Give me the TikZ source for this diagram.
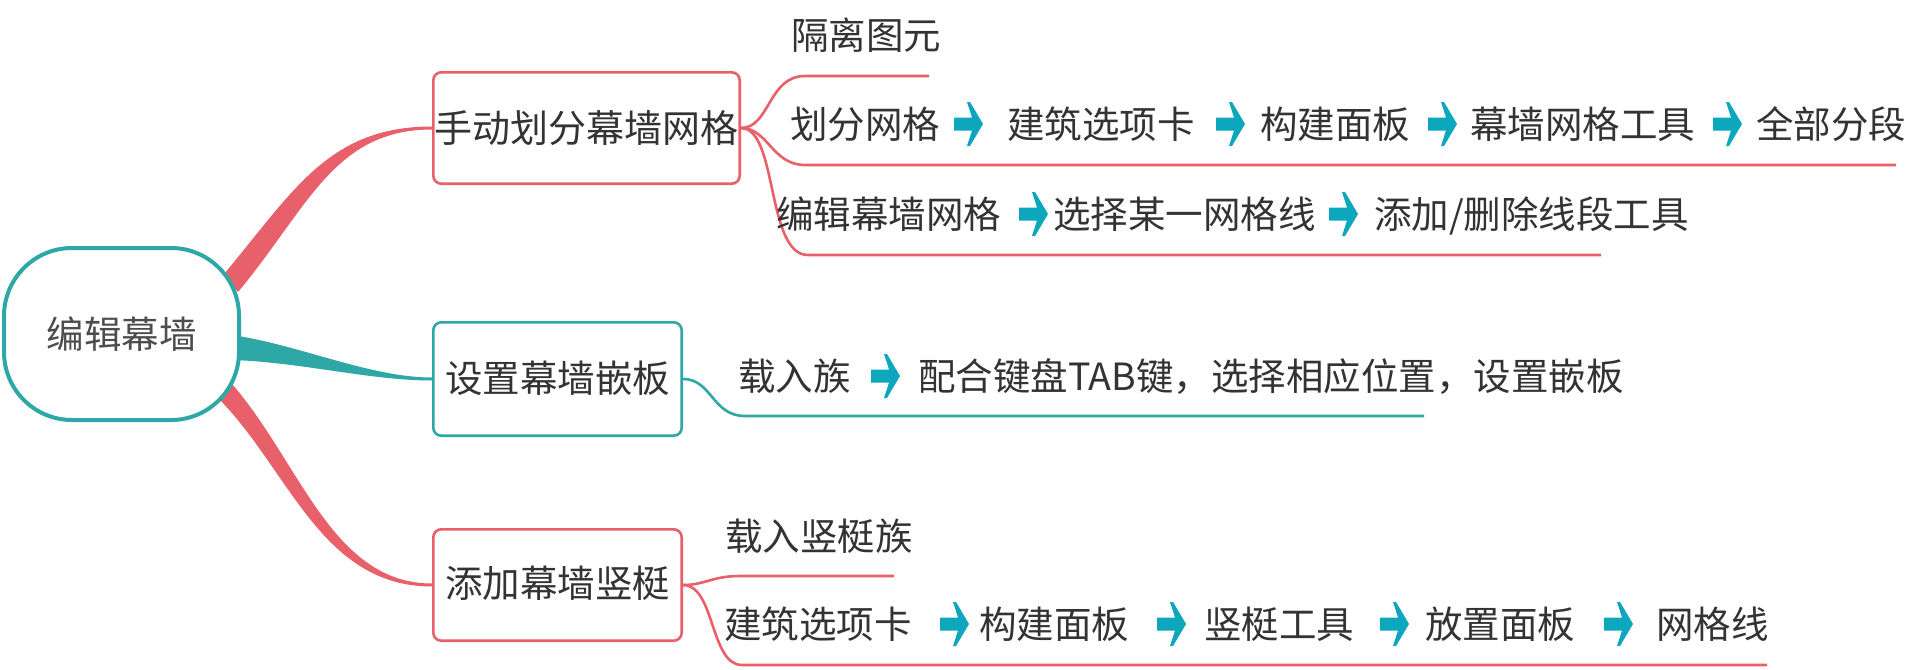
\documentclass[tikz,border=0pt]{standalone}
\usepackage{fontspec}
\usetikzlibrary{calc}
\newfontfamily\cjk{Noto Sans CJK SC}
\definecolor{redline}{HTML}{E8606A}
\definecolor{tealline}{HTML}{2EA7A7}
\definecolor{arrowblue}{HTML}{0CA6BD}
\definecolor{txt}{HTML}{333333}
\definecolor{roottxt}{HTML}{4D4D4D}
\pgfdeclarelayer{bottom}
\pgfdeclarelayer{bands}
\pgfsetlayers{bottom,bands,main}
\tikzset{
  txtstyle/.style={font=\cjk\fontsize{37.5}{40}\selectfont, text=txt, inner sep=0pt, anchor=base west},
  mainbox/.style={draw, line width=2.6pt, rounded corners=8pt, fill=white, inner sep=0pt,
    font=\cjk\fontsize{37.5}{40}\selectfont, text=txt},
  branch/.style={line width=2.6pt},
  flowarrow/.pic={\fill[arrowblue] (0,-6.5) -- (18,-6.5) -- (13,-22) -- (16,-22) -- (29,0)
     -- (16,22) -- (13,22) -- (18,6.5) -- (0,6.5) -- cycle;}
}
\begin{document}
\begin{tikzpicture}[x=1pt,y=-1pt]
\useasboundingbox (0,0) rectangle (1929,669);
\begin{pgfonlayer}{bottom}
\fill[white] (0,0) rectangle (1929,669);
\end{pgfonlayer}

% root
\node[draw=tealline, line width=4pt, rounded corners=68pt, fill=white, inner sep=0pt,
  minimum width=235pt, minimum height=172pt, font=\cjk\fontsize{37.5}{40}\selectfont, text=roottxt]
  (root) at (121.5,334) {\raisebox{3pt}{编辑幕墙}};

% main nodes
\node[mainbox, draw=redline, minimum width=306.4pt, minimum height=111.4pt,
  font=\cjk\fontsize{38}{42}\selectfont] (n1) at (586.5,128)
  {\raisebox{3pt}{\makebox[0pt]{手动划分幕墙网格}}};
\node[mainbox, draw=tealline, minimum width=248.4pt, minimum height=113.4pt] (n2) at (557.5,379)
  {\raisebox{4pt}{\makebox[0pt]{设置幕墙嵌板}}};
\node[mainbox, draw=redline, minimum width=248.4pt, minimum height=111.4pt] (n3) at (557.5,585)
  {\raisebox{6pt}{\makebox[0pt]{添加幕墙竖梃}}};

% thick tapered bands from root
\coordinate (r1a) at (224,274);
\coordinate (r1b) at (238,292);
\coordinate (r2a) at (232,335);
\coordinate (r2b) at (232,360);
\coordinate (r3a) at (232,384);
\coordinate (r3b) at (220,400);
\begin{pgfonlayer}{bands}
\fill[redline] (r1a) .. controls (293,192) and (328,126.5) .. ([yshift=1.5pt]n1.west)
  -- ([yshift=-1.5pt]n1.west) .. controls (334,129.5) and (308,208) .. (r1b) -- cycle;
\fill[tealline] (r2a) .. controls (300,345) and (370,377.5) .. ([yshift=1.5pt]n2.west)
  -- ([yshift=-1.5pt]n2.west) .. controls (370,380.5) and (300,362) .. (r2b) -- cycle;
\fill[redline] (r3a) .. controls (300,462) and (332,583.5) .. ([yshift=1.5pt]n3.west)
  -- ([yshift=-1.5pt]n3.west) .. controls (322,586.5) and (290,472) .. (r3b) -- cycle;
\end{pgfonlayer}

% underline end points
\coordinate (u1) at (929,76);
\coordinate (u2) at (1896,165);
\coordinate (u3) at (1601,255);
\coordinate (u4) at (1424,416);
\coordinate (u5) at (894,576);
\coordinate (u6) at (1767,665);

% child connectors
\draw[branch, redline] (n1.east) .. controls (770,128) and (768,76) .. (805,76) -- (u1);
\draw[branch, redline] (n1.east) .. controls (768,128) and (772,165) .. (805,165) -- (u2);
\draw[branch, redline] (n1.east) .. controls (778,128) and (766,255) .. (808,255) -- (u3);
\draw[branch, tealline] (n2.east) .. controls (712,379) and (712,416) .. (745,416) -- (u4);
\draw[branch, redline] (n3.east) .. controls (705,585) and (712,576) .. (740,576) -- (u5);
\draw[branch, redline] (n3.east) .. controls (715,585) and (710,665) .. (742,665) -- (u6);

% branch 1 texts
\node[txtstyle] (a1) at (791,49) {隔离图元};

\node[txtstyle] (b1) at (790,138) {划分网格};
\pic at (954,124) {flowarrow};
\node[txtstyle] (b2) at (1007,138) {建筑选项卡};
\pic at (1216,124) {flowarrow};
\node[txtstyle] (b3) at (1260,138) {构建面板};
\pic at (1428,124) {flowarrow};
\node[txtstyle] (b4) at (1470,138) {幕墙网格工具};
\pic at (1713,124) {flowarrow};
\node[txtstyle] (b5) at (1756,138) {全部分段};

\node[txtstyle] (c1) at (776,228) {编辑幕墙网格};
\pic at (1019,214) {flowarrow};
\node[txtstyle] (c2) at (1053,228) {选择某一网格线};
\pic at (1329,214) {flowarrow};
\node[txtstyle] (c3) at (1374,228) {添加/删除线段工具};

% branch 2 texts
\node[txtstyle] (d1) at (738,390) {载入族};
\pic at (871,376) {flowarrow};
\node[txtstyle] (d2) at (918,390) {配合键盘TAB键，选择相应位置，设置嵌板};

% branch 3 texts
\node[txtstyle] (e1) at (725,550) {载入竖梃族};
\node[txtstyle] (f1) at (724,638) {建筑选项卡};
\pic at (940,624) {flowarrow};
\node[txtstyle] (f2) at (979,638) {构建面板};
\pic at (1157,624) {flowarrow};
\node[txtstyle] (f3) at (1204,638) {竖梃工具};
\pic at (1380,624) {flowarrow};
\node[txtstyle] (f4) at (1425,638) {放置面板};
\pic at (1604,624) {flowarrow};
\node[txtstyle] (f5) at (1656,638) {网格线};
\end{tikzpicture}
\end{document}
